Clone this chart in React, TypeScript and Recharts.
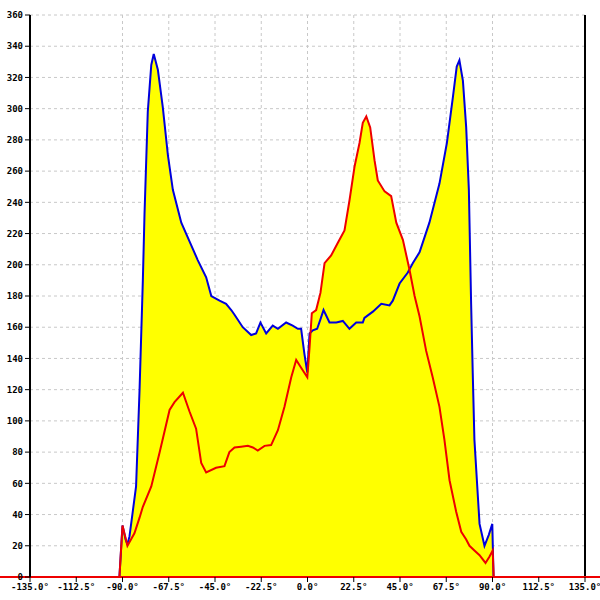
import {
  ComposedChart,
  Area,
  Line,
  XAxis,
  YAxis,
  CartesianGrid,
  ReferenceLine,
} from "recharts";

// angle (deg) -> value
const blueAngles = [
  -91.5, -90, -88.5, -87.6, -86.6, -85.2, -83.4, -81.7, -80.1, -79.3, -77.7, -76.0, -74.8,
  -72.8, -70.4, -67.9, -65.5, -61.4, -57.4, -53.4, -49.3, -46.8, -42.8, -39.6, -37.1, -35.5,
  -31.5, -27.4, -25.0, -22.9, -20.1, -16.9, -14.4, -10.4, -7.2, -4.7, -3.1, -1.5, -0.1, 1.0,
  2.6, 4.7, 6.3, 7.8, 10.7, 14.0, 17.2, 20.4, 23.7, 26.9, 27.7, 31.8, 35.9, 39.9, 41.5, 44.8,
  48.8, 51.2, 54.5, 59.3, 64.2, 67.8, 70.7, 72.6, 73.9, 75.6, 77.2, 78.5, 79.6, 80.4, 81.2,
  82.4, 83.7, 86.1, 88.2, 89.9, 90.5,
];
const blueValues = [
  0, 33, 24, 21, 26, 40, 58, 120, 190, 232, 298, 328, 335,
  325, 301, 270, 248, 227, 215, 203, 192, 180, 177, 175, 171, 168,
  160, 155, 156, 163, 156, 161, 159, 163, 161, 159, 159, 143, 131, 156,
  158, 159, 165, 171, 163, 163, 164, 159, 163, 163, 166, 170, 175, 174, 177, 188,
  195, 201, 208, 227, 252, 278, 307, 327, 331, 318, 288, 248, 175, 130, 88,
  62, 34, 20, 27, 34, 0,
];

const redAngles = [
  -91.5, -90, -88.5, -87.6, -84.2, -81.7, -80.1, -76.0, -71.9, -67.1, -64.7, -60.6, -57.4,
  -54.2, -51.7, -49.3, -44.5, -40.4, -38.0, -35.5, -32.3, -29.0, -26.6, -24.2, -20.9, -17.7,
  -14.4, -11.2, -7.9, -5.5, -3.1, -0.1, 1.0, 2.1, 4.2, 6.3, 8.3, 11.5, 14.7, 18.0, 20.4,
  22.9, 25.3, 26.9, 28.6, 30.5, 32.6, 34.2, 37.5, 40.7, 43.2, 46.4, 49.6, 52.1, 54.5, 57.7,
  60.9, 64.2, 66.6, 69.1, 72.3, 74.8, 77.2, 78.8, 81.2, 83.7, 86.6, 88.5, 90.1, 90.6,
];
const redValues = [
  0, 33, 25, 20, 28, 38, 45, 58, 80, 107, 112, 118, 106,
  95, 73, 67, 70, 71, 80, 83, 83.5, 84, 83, 81, 84, 84.5,
  94, 109, 128, 139, 134, 128, 147, 169, 171, 182, 201, 206, 214, 222, 241,
  263, 278, 291, 295, 288, 267, 254, 247, 244, 227, 216, 197, 180, 167, 145,
  128, 109, 88, 62, 42, 29, 24, 20, 17, 14, 9, 13, 17, 0,
];

const xTicks = [-135, -112.5, -90, -67.5, -45, -22.5, 0, 22.5, 45, 67.5, 90, 112.5, 135];
const yTicks = [0, 20, 40, 60, 80, 100, 120, 140, 160, 180, 200, 220, 240, 260, 280, 300, 320, 340, 360];

const blueData = blueAngles.map((x, i) => ({ x, v: blueValues[i] }));
const redData = redAngles.map((x, i) => ({ x, v: redValues[i] }));

const tickFont = { fontFamily: "DejaVu Sans Mono", fontSize: 9, fill: "#000", fontWeight: "bold" as const };

export default function App() {
  return (
    <div style={{ position: "absolute", left: 0, top: 0, width: 600, height: 600, background: "#fff" }}>
      <ComposedChart width={600} height={600} margin={{ top: 15, right: 15, bottom: 0, left: 0 }}>
        <CartesianGrid stroke="#c8c8c8" strokeDasharray="3 3" />
        <XAxis
          type="number"
          dataKey="x"
          domain={[-135, 135]}
          ticks={xTicks}
          tickFormatter={(v: number) => `${v.toFixed(1)}°`}
          tick={tickFont}
          tickSize={5}
          height={23}
          axisLine={{ stroke: "#ee0000", strokeWidth: 2 }}
          tickLine={{ stroke: "#000" }}
          allowDataOverflow
        />
        <YAxis
          type="number"
          domain={[0, 360]}
          ticks={yTicks}
          tick={tickFont}
          tickSize={5}
          width={30}
          axisLine={{ stroke: "#000", strokeWidth: 2 }}
          tickLine={{ stroke: "#000" }}
          allowDataOverflow
        />
        <Area data={blueData} dataKey="v" type="linear" fill="#ffff00" fillOpacity={1} stroke="none" isAnimationActive={false} />
        <Area data={redData} dataKey="v" type="linear" fill="#ffff00" fillOpacity={1} stroke="none" isAnimationActive={false} />
        <Line data={blueData} dataKey="v" type="linear" stroke="#0000dd" strokeWidth={2} dot={false} isAnimationActive={false} />
        <Line data={redData} dataKey="v" type="linear" stroke="#ee0000" strokeWidth={2} dot={false} isAnimationActive={false} />
        <ReferenceLine x={135} stroke="#000" strokeWidth={2} />
        <ReferenceLine
          segment={[{ x: -180, y: 0 }, { x: 180, y: 0 }]}
          stroke="#ee0000"
          strokeWidth={2}
          ifOverflow="visible"
        />
      </ComposedChart>
    </div>
  );
}
